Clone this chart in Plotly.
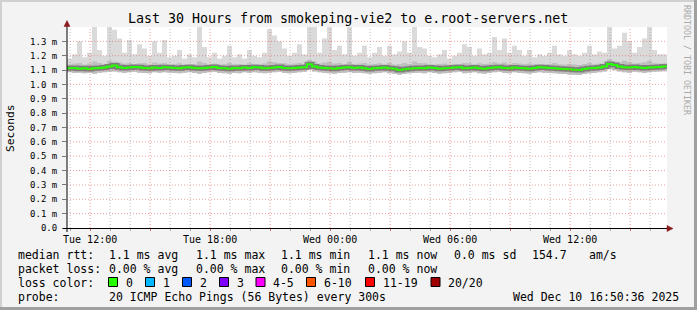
import plotly.graph_objects as go
import pandas as pd
import numpy as np

# ---------------- data ----------------
start_time = "2025-12-09 10:50:36"
end_time = "2025-12-10 16:50:36"
step_minutes = 15

# median RTT (ms) per 15-minute bin
median_ms = [1.112,1.115,1.110,1.112,1.108,1.112,1.115,1.118,1.125,1.132,1.120,1.115,1.118,1.122,1.120,1.115,1.112,1.118,1.115,1.120,
             1.118,1.115,1.112,1.118,1.120,1.115,1.112,1.115,1.118,1.122,1.115,1.112,1.110,1.115,1.112,1.118,1.115,1.120,1.118,1.112,
             1.115,1.118,1.122,1.115,1.112,1.115,1.118,1.120,1.140,1.125,1.118,1.115,1.112,1.110,1.115,1.118,1.120,1.115,1.118,1.112,
             1.108,1.112,1.115,1.118,1.112,1.110,1.100,1.105,1.110,1.112,1.115,1.112,1.118,1.115,1.110,1.112,1.115,1.118,1.120,1.112,
             1.115,1.118,1.112,1.110,1.115,1.118,1.120,1.115,1.112,1.118,1.115,1.112,1.110,1.115,1.120,1.118,1.115,1.112,1.110,1.108,
             1.105,1.102,1.100,1.108,1.112,1.115,1.118,1.125,1.142,1.135,1.125,1.120,1.118,1.122,1.118,1.115,1.118,1.120,1.122,1.125]

# max ping (ms) per bin (smoke top)
max_ms = [1.18,1.21,1.30,1.19,1.22,1.40,1.24,1.20,1.40,1.38,1.32,1.22,1.31,1.21,1.28,1.25,1.20,1.30,1.22,1.31,
          1.19,1.20,1.24,1.18,1.21,1.19,1.40,1.26,1.19,1.22,1.18,1.20,1.27,1.19,1.21,1.18,1.24,1.20,1.19,1.22,
          1.385,1.34,1.30,1.25,1.20,1.22,1.28,1.21,1.40,1.40,1.22,1.32,1.40,1.24,1.27,1.21,1.40,1.20,1.22,1.27,
          1.19,1.22,1.26,1.20,1.27,1.21,1.23,1.30,1.22,1.40,1.26,1.25,1.20,1.19,1.21,1.24,1.18,1.20,1.22,1.28,
          1.26,1.20,1.25,1.21,1.22,1.33,1.24,1.32,1.22,1.27,1.24,1.20,1.24,1.19,1.21,1.20,1.22,1.27,1.21,1.20,
          1.24,1.21,1.20,1.22,1.27,1.21,1.23,1.22,1.40,1.25,1.27,1.36,1.30,1.22,1.26,1.32,1.40,1.24,1.21,1.21]

# upper dense smoke (ms)
upper_ms = [1.140,1.145,1.150,1.138,1.145,1.160,1.150,1.142,1.165,1.160,1.155,1.145,1.150,1.140,1.148,1.150,1.140,1.152,1.145,1.150,
            1.140,1.142,1.148,1.138,1.142,1.140,1.160,1.150,1.140,1.145,1.138,1.140,1.150,1.140,1.142,1.138,1.148,1.142,1.140,1.145,
            1.160,1.155,1.150,1.148,1.140,1.145,1.150,1.142,1.170,1.160,1.145,1.152,1.158,1.145,1.150,1.142,1.158,1.140,1.145,1.150,
            1.138,1.142,1.148,1.140,1.150,1.138,1.140,1.150,1.142,1.160,1.150,1.148,1.140,1.138,1.142,1.145,1.138,1.140,1.142,1.150,
            1.148,1.140,1.148,1.142,1.145,1.155,1.145,1.152,1.142,1.150,1.145,1.140,1.145,1.138,1.142,1.140,1.142,1.150,1.140,1.138,
            1.142,1.138,1.135,1.142,1.150,1.140,1.145,1.145,1.175,1.160,1.155,1.165,1.155,1.145,1.150,1.155,1.165,1.148,1.145,1.148]

# min ping (ms) per bin (smoke bottom)
min_ms = [1.085,1.080,1.082,1.078,1.080,1.075,1.082,1.085,1.088,1.090,1.085,1.080,1.085,1.088,1.082,1.080,1.078,1.085,1.082,1.085,
          1.082,1.080,1.078,1.082,1.085,1.080,1.075,1.080,1.085,1.088,1.080,1.078,1.075,1.080,1.078,1.085,1.080,1.085,1.082,1.078,
          1.080,1.085,1.088,1.080,1.078,1.080,1.085,1.088,1.100,1.090,1.085,1.080,1.078,1.075,1.080,1.082,1.085,1.080,1.082,1.078,
          1.075,1.078,1.080,1.085,1.078,1.075,1.068,1.072,1.078,1.080,1.082,1.078,1.085,1.080,1.075,1.078,1.080,1.085,1.088,1.078,
          1.080,1.085,1.078,1.075,1.080,1.085,1.088,1.080,1.078,1.085,1.080,1.078,1.075,1.080,1.085,1.082,1.080,1.078,1.075,1.072,
          1.070,1.068,1.065,1.072,1.078,1.080,1.085,1.090,1.105,1.098,1.090,1.085,1.082,1.088,1.085,1.080,1.085,1.088,1.090,1.092]

x_tick_times = ["2025-12-09 12:00", "2025-12-09 15:00", "2025-12-09 18:00", "2025-12-09 21:00",
                "2025-12-10 00:00", "2025-12-10 03:00", "2025-12-10 06:00", "2025-12-10 09:00",
                "2025-12-10 12:00", "2025-12-10 15:00"]
x_tick_labels = ["Tue 12:00", "", "Tue 18:00", "", "Wed 00:00", "", "Wed 06:00", "", "Wed 12:00", ""]
y_tick_values = [0.0, 0.1, 0.2, 0.3, 0.4, 0.5, 0.6, 0.7, 0.8, 0.9, 1.0, 1.1, 1.2, 1.3]
y_tick_labels = ["0.0", "0.1 m", "0.2 m", "0.3 m", "0.4 m", "0.5 m", "0.6 m", "0.7 m",
                 "0.8 m", "0.9 m", "1.0 m", "1.1 m", "1.2 m", "1.3 m"]

title_text = "Last 30 Hours from smokeping-vie2 to e.root-servers.net"
loss_labels = ["0", "1", "2", "3", "4-5", "6-10", "11-19", "20/20"]
loss_colors = ["#26ff00", "#00b8ff", "#0059ff", "#7e00ff", "#ff00ff", "#ff5500", "#ff0000", "#a10000"]
rtt_texts = ["1.1 ms avg", "1.1 ms max", "1.1 ms min", "1.1 ms now", "0.0 ms sd", "154.7", "am/s"]
loss_texts = ["0.00 % avg", "0.00 % max", "0.00 % min", "0.00 % now"]
probe_text = "20 ICMP Echo Pings (56 Bytes) every 300s"
stamp_text = "Wed Dec 10 16:50:36 2025"

# ---------------- layout helpers ----------------
W, H = 697, 310
L, R, T, B = 67, 30, 27, 82
PW, PH = W - L - R, H - T - B
def X(px):
    return (px - L) / PW
def Y(py):
    return (H - B - py) / PH

n = len(median_ms)
edges = pd.date_range(start_time, periods=n + 1, freq=f"{step_minutes}min")
def stepped(a):
    return list(a) + [a[-1]]

MONO = "DejaVu Sans Mono"
fig = go.Figure()
# light smoke: min..max
fig.add_trace(go.Scatter(x=edges, y=stepped(min_ms), mode="lines", line=dict(width=0, shape="hv"),
                         showlegend=False, hoverinfo="skip"))
fig.add_trace(go.Scatter(x=edges, y=stepped(max_ms), mode="lines", line=dict(width=0, shape="hv"),
                         fill="tonexty", fillcolor="#dadada", showlegend=False, hoverinfo="skip"))
# denser smoke
fig.add_trace(go.Scatter(x=edges, y=stepped(min_ms), mode="lines", line=dict(width=0, shape="hv"),
                         showlegend=False, hoverinfo="skip"))
fig.add_trace(go.Scatter(x=edges, y=stepped(upper_ms), mode="lines", line=dict(width=0, shape="hv"),
                         fill="tonexty", fillcolor="#bfbfbf", showlegend=False, hoverinfo="skip"))
# darkest smoke around median
fig.add_trace(go.Scatter(x=edges, y=stepped(median_ms), mode="lines",
                         line=dict(width=5, shape="hv", color="rgba(60,60,60,0.5)"),
                         showlegend=False, hoverinfo="skip"))
# median line
fig.add_trace(go.Scatter(x=edges, y=stepped(median_ms), mode="lines",
                         line=dict(width=2, shape="hv", color=loss_colors[0]),
                         showlegend=False, hoverinfo="skip"))

shapes = []
# grid (drawn above data like rrdtool)
minor_times = pd.date_range("2025-12-09 11:00", "2025-12-10 16:00", freq="1h")
major_set = set(pd.to_datetime(x_tick_times))
for t in minor_times:
    if t in major_set:
        continue
    shapes.append(dict(type="line", xref="x", yref="paper", x0=t, x1=t, y0=0, y1=1, layer="above",
                       line=dict(color="rgba(140,140,140,0.55)", width=1, dash="1px,2px")))
for t in x_tick_times:
    shapes.append(dict(type="line", xref="x", yref="paper", x0=t, x1=t, y0=0, y1=1, layer="above",
                       line=dict(color="rgba(230,80,80,0.55)", width=1, dash="1px,2px")))
for v in y_tick_values[1:]:
    shapes.append(dict(type="line", xref="paper", yref="y", x0=0, x1=1, y0=v, y1=v, layer="above",
                       line=dict(color="rgba(230,80,80,0.55)", width=1, dash="1px,2px")))
# axes with arrows
shapes.append(dict(type="line", xref="paper", yref="paper", x0=X(63), x1=X(668), y0=Y(228.5), y1=Y(228.5),
                   layer="above", line=dict(color="black", width=1)))
shapes.append(dict(type="line", xref="paper", yref="paper", x0=X(67), x1=X(67), y0=Y(232), y1=Y(25),
                   layer="above", line=dict(color="black", width=1)))
shapes.append(dict(type="path", xref="paper", yref="paper", layer="above",
                   path=f"M {X(667)} {Y(225.5)} L {X(673)} {Y(228.5)} L {X(667)} {Y(231.5)} Z",
                   fillcolor="#8b1a1a", line=dict(color="#8b1a1a", width=0.5)))
shapes.append(dict(type="path", xref="paper", yref="paper", layer="above",
                   path=f"M {X(64)} {Y(26.5)} L {X(67)} {Y(20.5)} L {X(70)} {Y(26.5)} Z",
                   fillcolor="#8b1a1a", line=dict(color="#8b1a1a", width=0.5)))
# frame of the image
shapes.append(dict(type="rect", xref="paper", yref="paper", x0=X(0), x1=X(W), y0=Y(0), y1=Y(2),
                   fillcolor="#d0d0d0", line=dict(width=0), layer="above"))
shapes.append(dict(type="rect", xref="paper", yref="paper", x0=X(0), x1=X(2), y0=Y(0), y1=Y(H),
                   fillcolor="#d0d0d0", line=dict(width=0), layer="above"))
shapes.append(dict(type="rect", xref="paper", yref="paper", x0=X(694), x1=X(W), y0=Y(0), y1=Y(H),
                   fillcolor="#a0a0a0", line=dict(width=0), layer="above"))
shapes.append(dict(type="rect", xref="paper", yref="paper", x0=X(0), x1=X(W), y0=Y(307), y1=Y(H),
                   fillcolor="#a0a0a0", line=dict(width=0), layer="above"))

# loss colour boxes
box_x = [108.5, 145.5, 182.5, 219.5, 256, 306.5, 365.5, 431]
for bx, c in zip(box_x, loss_colors):
    shapes.append(dict(type="rect", xref="paper", yref="paper", x0=X(bx), x1=X(bx + 9), y0=Y(277.5), y1=Y(286.5),
                       fillcolor=c, line=dict(color="black", width=1), layer="above"))

ann = []
def text(s, px, py, size=11.5, anchor="left", color="black", angle=0, font=MONO):
    ann.append(dict(text=s, x=X(px), y=Y(py), xref="paper", yref="paper", showarrow=False,
                    xanchor=anchor, yanchor="middle", textangle=angle,
                    font=dict(family=font, size=size, color=color)))

text(title_text, 348, 19, size=13.3, anchor="center")
text("Seconds", 10, 128, size=11.3, angle=-90, anchor="center")
text("RRDTOOL / TOBI OETIKER", 687, 60, size=8.3, angle=90, anchor="center", color="#aaaaaa")

y1, y2, y3, y4 = 254.5, 268.5, 282.5, 296.5
text("median rtt:", 16, y1)
for s, px in zip(rtt_texts, [107.3, 194, 279.3, 365.7, 451.7, 530, 586.7]):
    text(s, px, y1)
text("packet loss:", 16, y2)
for s, px in zip(loss_texts, [107.3, 194, 279.3, 365.7]):
    text(s, px, y2)
text("loss color:", 16, y3)
for bx, s in zip(box_x, loss_labels):
    text(s, bx + 15, y3)
text("probe:", 16, y4)
text(probe_text, 107.3, y4)
text(stamp_text, 680.5, y4, anchor="right")

fig.update_layout(
    width=W, height=H, margin=dict(l=L, r=R, t=T, b=B, pad=0),
    paper_bgcolor="#f3f3f3", plot_bgcolor="white",
    shapes=shapes, annotations=ann, showlegend=False,
    xaxis=dict(type="date", range=[start_time, end_time], showgrid=False, zeroline=False, showline=False,
               tickvals=x_tick_times, ticktext=x_tick_labels, ticks="outside", ticklen=2,
               tickcolor="rgba(230,80,80,0.7)",
               tickfont=dict(family=MONO, size=10, color="black"),
               minor=dict(ticks="outside", ticklen=2, tickcolor="rgba(140,140,140,0.7)",
                          dtick=3600000, tick0="2025-12-09 11:00", showgrid=False)),
    yaxis=dict(range=[0, 1.4], showgrid=False, zeroline=False, showline=False,
               tickvals=y_tick_values, ticktext=y_tick_labels, ticks="outside", ticklen=4,
               tickcolor="#777777", ticklabelstandoff=3,
               tickfont=dict(family=MONO, size=9, color="black")),
)
fig.write_html("out.html")
